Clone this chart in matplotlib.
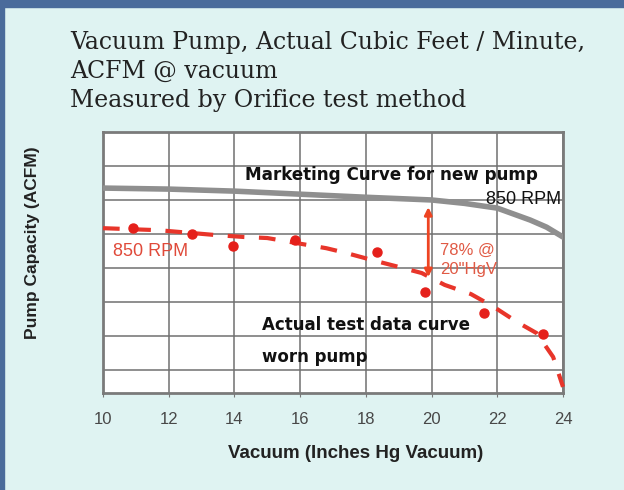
import matplotlib
matplotlib.use('Agg')
import matplotlib.pyplot as plt
from matplotlib.patches import Rectangle

# marketing curve (new pump, 850 RPM)
market_x = [10, 12, 14, 16, 18, 20, 21, 22, 23, 23.5, 24]
market_y = [6.03, 6.0, 5.94, 5.85, 5.76, 5.68, 5.58, 5.44, 5.09, 4.88, 4.59]

# fitted curve through worn pump test data
worn_x = [10, 11.7, 13.4, 14.3, 15, 16.8, 17.4, 18.2, 19, 19.7, 20.4, 21.2, 21.9, 22.6, 23.2, 23.7, 24]
worn_y = [4.85, 4.79, 4.65, 4.59, 4.56, 4.26, 4.12, 3.91, 3.71, 3.53, 3.18, 2.91, 2.53, 2.09, 1.76, 1.06, 0.18]

# measured points
test_x = [10.9, 12.7, 13.95, 15.85, 18.35, 19.8, 21.6, 23.4]
test_y = [4.85, 4.68, 4.32, 4.5, 4.15, 2.97, 2.35, 1.74]

xticks = [10, 12, 14, 16, 18, 20, 22, 24]
ygrid = [0.68, 1.68, 2.68, 3.68, 4.68, 5.68, 6.68, 7.68]

bg = '#dff3f2'
red = '#e8352a'
sans = 'Liberation Sans'
wide = 'DejaVu Sans'

fig = plt.figure(figsize=(6.24, 4.9), dpi=100, facecolor=bg)
# slide border
fig.patches.append(Rectangle((0, 0), 4 / 624, 1, transform=fig.transFigure, color='#4a6b9b', zorder=0))
fig.patches.append(Rectangle((0, 1 - 7 / 490), 1, 7 / 490, transform=fig.transFigure, color='#4a6b9b', zorder=0))

ax = fig.add_axes([103 / 624, 1 - 393 / 490, 460 / 624, 261 / 490])
ax.set_facecolor('white')
ax.set_xlim(10, 24)
ax.set_ylim(0, 7.68)
ax.set_xticks(xticks)
ax.set_yticks(ygrid)
ax.set_yticklabels([])
ax.grid(True, color='#707070', lw=1.1)
ax.tick_params(axis='y', length=0)
ax.tick_params(axis='x', length=3, color='#777777', labelsize=12, labelcolor='#484848', pad=11)
for lab in ax.get_xticklabels():
    lab.set_family(sans)
for s in ax.spines.values():
    s.set_color('#7a7a7a')
    s.set_linewidth(2)

ax.plot(market_x, market_y, color='#8f8f8f', lw=4, solid_capstyle='round', zorder=3)
ax.plot(worn_x, worn_y, color=red, lw=3, ls=(0, (4, 3.5)), zorder=3, clip_on=False)
ax.plot(test_x, test_y, 'o', color='#e5201b', ms=6.5, zorder=4)

ax.annotate('', xy=(19.9, 5.47), xytext=(19.9, 3.41),
            arrowprops=dict(arrowstyle='<|-|>', color='#ee4422', lw=2, mutation_scale=11,
                            shrinkA=0, shrinkB=0), zorder=5)

ax.text(14.32, 6.41, 'Marketing Curve for new pump', family=wide, weight='bold',
        fontsize=12.1, va='center', ha='left', color='#111111', zorder=6)
ax.text(23.94, 5.68, '850 RPM', family=sans, fontsize=13, va='center', ha='right',
        color='#111111', zorder=6)
ax.text(10.3, 4.15, '850 RPM', family=sans, fontsize=13, va='center', ha='left',
        color='#e04a3a', zorder=6)
ax.text(20.26, 4.2, '78% @', family=sans, fontsize=12, va='center', ha='left', color='#e05a45', zorder=6)
ax.text(20.26, 3.62, '20"HgV', family=sans, fontsize=12, va='center', ha='left', color='#e05a45', zorder=6)
ax.text(14.84, 2.0, 'Actual test data curve', family=wide, weight='bold', fontsize=12,
        va='center', ha='left', color='#111111', zorder=6)
ax.text(14.84, 1.06, 'worn pump', family=wide, weight='bold', fontsize=12,
        va='center', ha='left', color='#111111', zorder=6)

fig.text(356 / 624, 1 - 453 / 490, 'Vacuum (Inches Hg Vacuum)', family=sans, weight='bold',
         fontsize=13.5, ha='center', va='center', color='#222222')
fig.text(33 / 624, 1 - 243 / 490, 'Pump Capacity (ACFM)', family=sans, weight='bold',
         fontsize=12.5, rotation=90, ha='center', va='center', color='#222222')

title_lines = ['Vacuum Pump, Actual Cubic Feet / Minute,', 'ACFM @ vacuum', 'Measured by Orifice test method']
for i, line in enumerate(title_lines):
    fig.text(70 / 624, 1 - (49 + 29 * i) / 490, line, family='DejaVu Serif', fontsize=17,
             ha='left', va='baseline', color='#222222')

fig.savefig('out.png', dpi=100, facecolor=bg)
